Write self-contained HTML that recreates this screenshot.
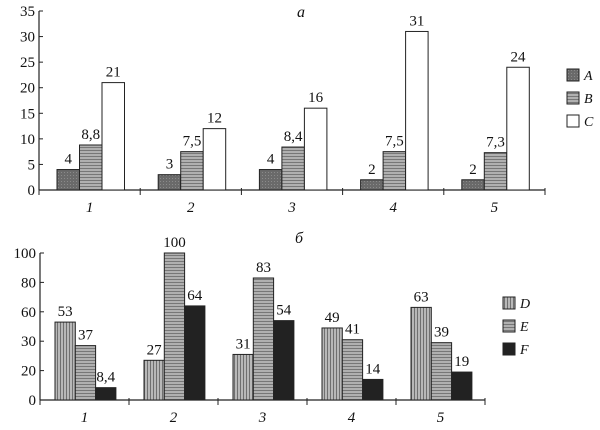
<!DOCTYPE html>
<html><head><meta charset="utf-8"><style>
body{margin:0;background:#fff}
svg{display:block;font-family:"Liberation Serif",serif}
</style></head><body>
<svg id="c" width="600" height="430" xmlns="http://www.w3.org/2000/svg">
<defs>
<pattern id="pA" width="3" height="3" patternUnits="userSpaceOnUse"><rect width="3" height="3" fill="#6a6a6a"/><rect x="1" y="1" width="1" height="1" fill="#8a8a8a"/></pattern>
<pattern id="pH" width="4" height="3" patternUnits="userSpaceOnUse"><rect width="4" height="3" fill="#b0b0b0"/><rect width="4" height="1" fill="#777"/></pattern>
<pattern id="pV" width="3" height="4" patternUnits="userSpaceOnUse"><rect width="3" height="4" fill="#b8b8b8"/><rect width="1" height="4" fill="#707070"/></pattern>
</defs>
</svg>
<script>
const catsA=["1","2","3","4","5"];
const seriesA=[4,3,4,2,2];
const seriesB=[8.8,7.5,8.4,7.5,7.3];
const seriesC=[21,12,16,31,24];
const labelsA=["4","3","4","2","2"];
const labelsB=["8,8","7,5","8,4","7,5","7,3"];
const labelsC=["21","12","16","31","24"];
const ticksTop=[0,5,10,15,20,25,30,35];
const catsB=["1","2","3","4","5"];
const seriesD=[53,27,31,49,63];
const seriesE=[37,100,83,41,39];
const seriesF=[8.4,64,54,14,19];
const labelsD=["53","27","31","49","63"];
const labelsE=["37","100","83","41","39"];
const labelsF=["8,4","64","54","14","19"];
const ticksBotVals=[0,20,40,60,80,100];
const ticksBotLabels=["0","20","30","60","80","100"];

const svg=document.getElementById('c');
const NS="http://www.w3.org/2000/svg";
function el(t,a,p){const e=document.createElementNS(NS,t);for(const k in a)e.setAttribute(k,a[k]);(p||svg).appendChild(e);return e;}
function txt(x,y,s,a){const e=el('text',Object.assign({x:x,y:y,'font-size':15,'text-anchor':'middle',fill:'#111'},a||{}));e.textContent=s;return e;}

function chart(cfg){
  const yS=v=>cfg.y0-(v/cfg.vmax)*(cfg.y0-cfg.yTop);
  const gw=(cfg.x1-cfg.x0)/cfg.cats.length;
  const xS=i=>cfg.x0+i*gw;
  // axes
  let a=el('line',{x1:cfg.x0,y1:cfg.y0,x2:cfg.x0,y2:cfg.yTop,stroke:'#222','stroke-width':1.2});
  
  
  a=el('line',{x1:cfg.x0,y1:cfg.y0,x2:cfg.x1,y2:cfg.y0,stroke:'#222','stroke-width':1.2});
  
  
  cfg.tickVals.forEach((v,i)=>{
    el('line',{x1:cfg.x0,y1:yS(v),x2:cfg.x0+4,y2:yS(v),stroke:'#222'});
    const t=txt(cfg.x0-4,yS(v)+5,cfg.tickLabels[i],{'text-anchor':'end'});
    
    
  });
  for(let i=0;i<=cfg.cats.length;i++) el('line',{x1:xS(i),y1:cfg.y0-2,x2:xS(i),y2:cfg.y0+5,stroke:'#222'});
  cfg.cats.forEach((c,i)=>{
    const t=txt(xS(i)+gw/2,cfg.y0+22,c,{'font-style':'italic'});
    
    
    cfg.series.forEach((s,j)=>{
      const x=xS(i)+cfg.off+j*cfg.bw, y=yS(s.vals[i]);
      const r=el('rect',{x:x,y:y,width:cfg.bw,height:cfg.y0-y,fill:s.fill,stroke:'#222','stroke-width':1});
      
      
      const l=txt(x+cfg.bw/2,y-6,s.labels[i]);
      
      
    });
  });
  cfg.series.forEach((s,j)=>{
    const ly=cfg.legY+j*cfg.legStep;
    const r=el('rect',{x:cfg.legX,y:ly,width:12,height:12,fill:s.fill,stroke:'#222'});
    
    
    const t=txt(cfg.legX+17,ly+11,s.key,{'text-anchor':'start','font-style':'italic','font-size':14});
    
    
  });
  const tt=txt(cfg.titleX,cfg.titleY,cfg.title,{'font-style':'italic','font-size':16});
  
  
}
chart({name:'chart-a',x0:39,x1:545,y0:190,yTop:11,vmax:35,cats:catsA,off:18,bw:22.5,
  tickVals:ticksTop,tickLabels:ticksTop.map(String),
  series:[{key:'A',vals:seriesA,labels:labelsA,fill:'url(#pA)'},{key:'B',vals:seriesB,labels:labelsB,fill:'url(#pH)'},{key:'C',vals:seriesC,labels:labelsC,fill:'#fff'}],
  legX:567,legY:69,legStep:23,title:'a',titleX:301,titleY:17});
chart({name:'chart-b',x0:40,x1:485,y0:400,yTop:253,vmax:100,cats:catsB,off:15,bw:20.3,
  tickVals:ticksBotVals,tickLabels:ticksBotLabels,
  series:[{key:'D',vals:seriesD,labels:labelsD,fill:'url(#pV)'},{key:'E',vals:seriesE,labels:labelsE,fill:'url(#pH)'},{key:'F',vals:seriesF,labels:labelsF,fill:'#222'}],
  legX:503,legY:297,legStep:23,title:'б',titleX:299,titleY:243});
</script>
</body></html>
